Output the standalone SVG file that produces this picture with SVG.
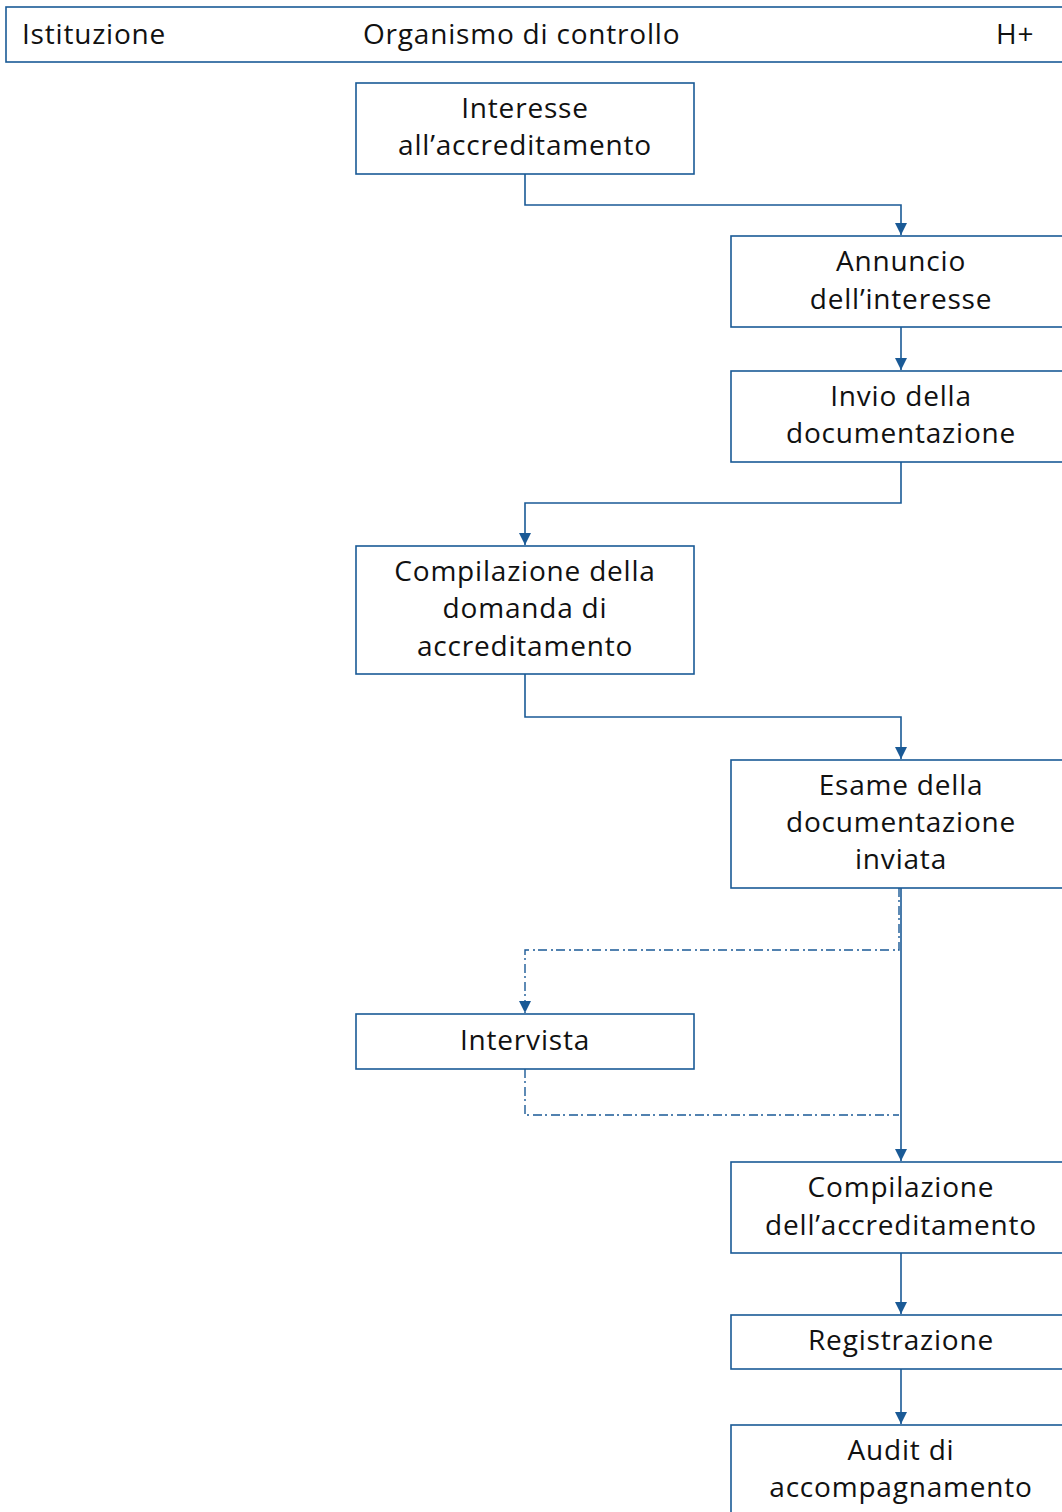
<svg xmlns="http://www.w3.org/2000/svg" width="1062" height="1512" viewBox="0 0 1062 1512">
<defs>
<marker id="ah" viewBox="0 0 10 10" refX="10" refY="5" markerWidth="12" markerHeight="13" markerUnits="userSpaceOnUse" orient="auto">
<path d="M0,0 L10,5 L0,10 Z" fill="#1a5a96"/>
</marker>
<style>
.box{fill:#fff;stroke:#1a5a96;stroke-width:1.6}
.t{font-family:"Open Sans","Liberation Sans",sans-serif;font-size:28px;letter-spacing:0.8px;fill:#111;text-anchor:middle}
.h{font-family:"Open Sans","Liberation Sans",sans-serif;font-size:28px;letter-spacing:0.8px;fill:#111}
.c{fill:none;stroke:#1a5a96;stroke-width:1.6}
.d{fill:none;stroke:#1a5a96;stroke-width:1.4;stroke-dasharray:9 3 2 4}
</style>
</defs>
<g id="header">
<rect x="6" y="7" width="1070" height="55" class="box"/>
<text class="h" x="22" y="44">Istituzione</text>
<text class="h" x="363" y="44">Organismo di controllo</text>
<text class="h" x="996" y="44">H+</text>
</g>
<g id="connectors">
<path class="c" d="M525,174 V205 H901 V235" marker-end="url(#ah)"/>
<path class="c" d="M901,327 V370" marker-end="url(#ah)"/>
<path class="c" d="M901,462 V503 H525 V545" marker-end="url(#ah)"/>
<path class="c" d="M525,674 V717 H901 V759" marker-end="url(#ah)"/>
<path class="c" d="M901,888 V1161" marker-end="url(#ah)"/>
<path class="d" d="M899,888 V950 H525 V1013" marker-end="url(#ah)"/>
<path class="d" d="M525,1069 V1115 H899"/>
<path class="c" d="M901,1253 V1314" marker-end="url(#ah)"/>
<path class="c" d="M901,1369 V1424" marker-end="url(#ah)"/>
</g>
<g id="n1"><rect class="box" x="356" y="83" width="338" height="91"/>
<text class="t" x="525" y="118">Interesse</text><text class="t" x="525" y="155">all’accreditamento</text></g>
<g id="n2"><rect class="box" x="731" y="236" width="340" height="91"/>
<text class="t" x="901" y="271">Annuncio</text><text class="t" x="901" y="309">dell’interesse</text></g>
<g id="n3"><rect class="box" x="731" y="371" width="340" height="91"/>
<text class="t" x="901" y="406">Invio della</text><text class="t" x="901" y="443">documentazione</text></g>
<g id="n4"><rect class="box" x="356" y="546" width="338" height="128"/>
<text class="t" x="525" y="581">Compilazione della</text><text class="t" x="525" y="618">domanda di</text><text class="t" x="525" y="656">accreditamento</text></g>
<g id="n5"><rect class="box" x="731" y="760" width="340" height="128"/>
<text class="t" x="901" y="795">Esame della</text><text class="t" x="901" y="832">documentazione</text><text class="t" x="901" y="869">inviata</text></g>
<g id="n6"><rect class="box" x="356" y="1014" width="338" height="55"/>
<text class="t" x="525" y="1050">Intervista</text></g>
<g id="n7"><rect class="box" x="731" y="1162" width="340" height="91"/>
<text class="t" x="901" y="1197">Compilazione</text><text class="t" x="901" y="1235">dell’accreditamento</text></g>
<g id="n8"><rect class="box" x="731" y="1315" width="340" height="54"/>
<text class="t" x="901" y="1350">Registrazione</text></g>
<g id="n9"><rect class="box" x="731" y="1425" width="340" height="100"/>
<text class="t" x="901" y="1460">Audit di</text><text class="t" x="901" y="1497">accompagnamento</text></g>
</svg>
